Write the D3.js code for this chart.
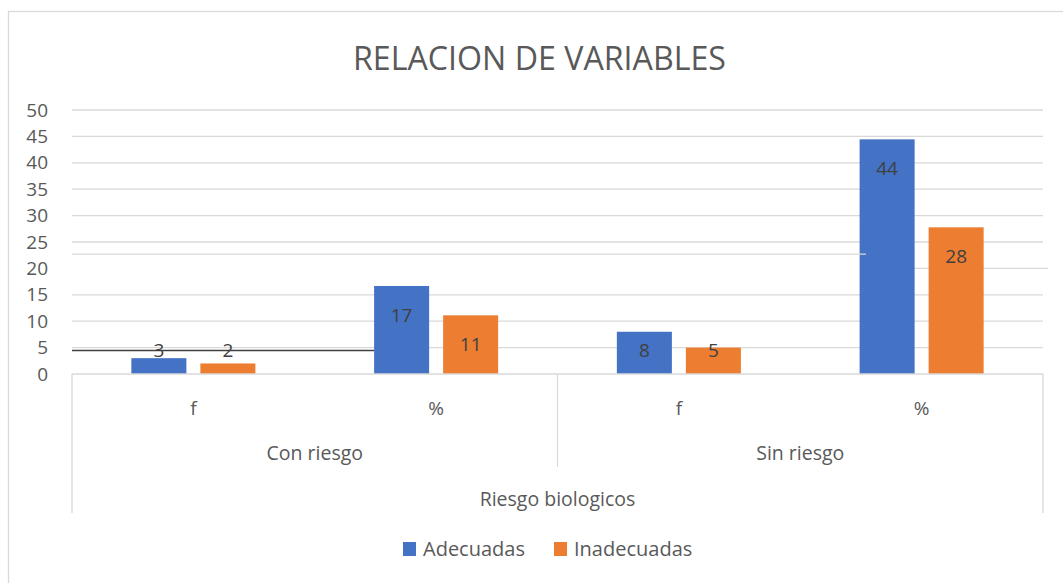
<!DOCTYPE html>
<html>
<head>
<meta charset="utf-8">
<script src="https://cdn.jsdelivr.net/npm/d3@7"></script>
<style>
  body { margin: 0; background: #fff; }
  text { font-family: "Open Sans", sans-serif; }
</style>
</head>
<body>
<div id="chart"></div>
<script>
// data (percentages are f / 18)
const groups = ["Con riesgo", "Sin riesgo"];
const subcats = ["f", "%"];
const seriesNames = ["Adecuadas", "Inadecuadas"];
const adecuadas = [3, 16.67, 8, 44.44];
const inadecuadas = [2, 11.11, 5, 27.78];
const yTicks = [0, 5, 10, 15, 20, 25, 30, 35, 40, 45, 50];
const outerLabel = "Riesgo biologicos";
const title = "RELACION DE VARIABLES";

const colors = { "Adecuadas": "#4472C4", "Inadecuadas": "#ED7D31" };
const W = 1063, H = 583;
const plotL = 72, plotR = 1043, plotT = 110, plotB = 374;

const cats = [];
groups.forEach(g => subcats.forEach(s => cats.push({ group: g, sub: s, key: g + "|" + s })));
const rows = cats.map((c, i) => ({ ...c, Adecuadas: adecuadas[i], Inadecuadas: inadecuadas[i] }));

const svg = d3.select("#chart").append("svg").attr("width", W).attr("height", H);

// outer chart border (clipped at right/bottom like the screenshot)
svg.append("rect").attr("x", 8.5).attr("y", 11.5).attr("width", W + 10).attr("height", H + 10)
  .attr("fill", "none").attr("stroke", "#d9d9d9").attr("stroke-width", 1.3);

svg.append("text").attr("x", 539.5).attr("y", 70).attr("text-anchor", "middle")
  .attr("font-size", 32).attr("fill", "#595959")
  .attr("textLength", 373).attr("lengthAdjust", "spacingAndGlyphs").text(title);

const y = d3.scaleLinear().domain([0, 50]).range([plotB, plotT]);
const x = d3.scaleBand().domain(cats.map(c => c.key)).range([plotL, plotR]);
const xs = d3.scaleBand().domain(seriesNames).range([0, x.bandwidth()])
  .paddingInner(0.203).paddingOuter(0.86);
const xg = d3.scaleBand().domain(groups).range([plotL, plotR]);

// gridlines (the 20 line only shows on the right part in the source)
svg.append("g").selectAll("line").data(yTicks.filter(t => t > 0 && t !== 20)).join("line")
  .attr("x1", plotL).attr("x2", plotR)
  .attr("y1", d => y(d)).attr("y2", d => y(d))
  .attr("stroke", "#d9d9d9").attr("stroke-width", 1.3);
svg.append("line").attr("x1", 866).attr("x2", 1048).attr("y1", y(20)).attr("y2", y(20))
  .attr("stroke", "#d9d9d9").attr("stroke-width", 1.3);

// y tick labels
svg.append("g").selectAll("text").data(yTicks).join("text")
  .attr("x", 48).attr("y", d => y(d)).attr("dy", "0.35em")
  .attr("text-anchor", "end").attr("font-size", 19).attr("fill", "#595959")
  .text(d => d);

// bars
const g = svg.append("g").selectAll("g").data(rows).join("g")
  .attr("transform", d => `translate(${x(d.key)},0)`);
g.selectAll("rect").data(d => seriesNames.map(s => ({ s, v: d[s] }))).join("rect")
  .attr("x", d => xs(d.s)).attr("width", xs.bandwidth())
  .attr("y", d => y(d.v)).attr("height", d => y(0) - y(d.v))
  .attr("fill", d => colors[d.s]);
g.selectAll("text").data(d => seriesNames.map(s => ({ s, v: d[s] }))).join("text")
  .attr("x", d => xs(d.s) + xs.bandwidth() / 2)
  .attr("y", d => Math.min(y(d.v) + 29, y(0) - 24)).attr("dy", "0.35em")
  .attr("text-anchor", "middle").attr("font-size", 19).attr("fill", "#404040")
  .text(d => d3.format(".0f")(d.v));

// stray lines present in the source picture
svg.append("line").attr("x1", plotL).attr("x2", 866).attr("y1", y(22.7)).attr("y2", y(22.7))
  .attr("stroke", "#d9d9d9").attr("stroke-width", 1.3);
svg.append("line").attr("x1", plotL).attr("x2", x(cats[1].key) + xs("Adecuadas"))
  .attr("y1", y(4.45)).attr("y2", y(4.45))
  .attr("stroke", "#404040").attr("stroke-width", 1.6);

// multi-level category axis
const ax = svg.append("g").attr("stroke", "#d9d9d9").attr("stroke-width", 1.3);
ax.append("line").attr("x1", plotL).attr("x2", plotR).attr("y1", plotB).attr("y2", plotB);
ax.append("line").attr("x1", plotL).attr("x2", plotL).attr("y1", plotB).attr("y2", 513);
ax.append("line").attr("x1", plotR).attr("x2", plotR).attr("y1", plotB).attr("y2", 513);
ax.append("line").attr("x1", xg("Sin riesgo")).attr("x2", xg("Sin riesgo")).attr("y1", plotB).attr("y2", 467);

svg.append("g").selectAll("text").data(cats).join("text")
  .attr("x", d => x(d.key) + x.bandwidth() / 2).attr("y", 408).attr("dy", "0.35em")
  .attr("text-anchor", "middle").attr("font-size", 19).attr("fill", "#595959")
  .text(d => d.sub);
svg.append("g").selectAll("text").data(groups).join("text")
  .attr("x", d => xg(d) + xg.bandwidth() / 2).attr("y", 453).attr("dy", "0.35em")
  .attr("text-anchor", "middle").attr("font-size", 19.5).attr("fill", "#595959")
  .text(d => d);
svg.append("text").attr("x", (plotL + plotR) / 2).attr("y", 499).attr("dy", "0.35em")
  .attr("text-anchor", "middle").attr("font-size", 19.5).attr("fill", "#595959")
  .text(outerLabel);

// legend
const legendX = [403, 554];
const lg = svg.append("g").selectAll("g").data(seriesNames).join("g")
  .attr("transform", (d, i) => `translate(${legendX[i]},549)`);
lg.append("rect").attr("x", 0).attr("y", -7).attr("width", 13).attr("height", 14)
  .attr("fill", d => colors[d]);
lg.append("text").attr("x", 20).attr("y", 0).attr("dy", "0.35em")
  .attr("font-size", 20).attr("fill", "#595959").text(d => d);
</script>
</body>
</html>
